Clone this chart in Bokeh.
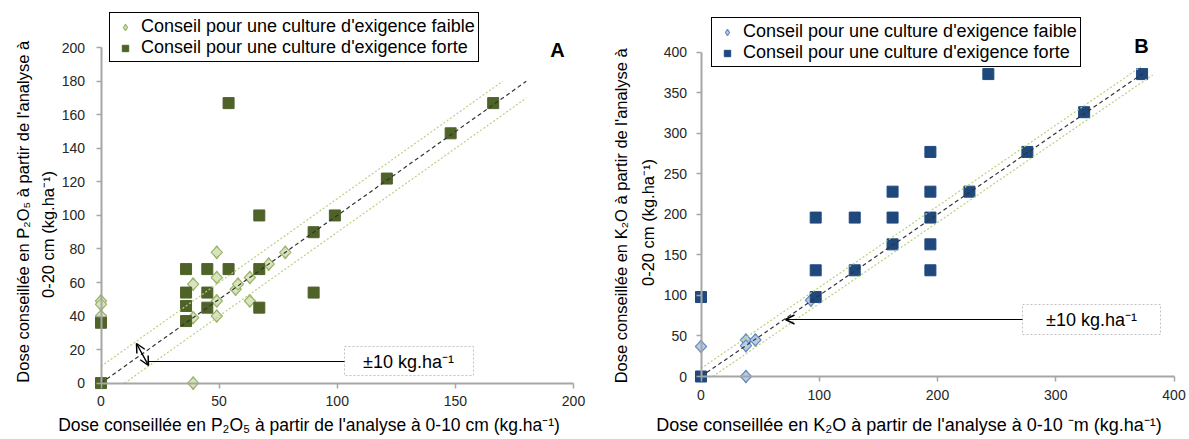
import numpy as np
from bokeh.plotting import figure
from bokeh.layouts import row
from bokeh.models import (Range1d, Legend, LegendItem, Label, BoxAnnotation, Arrow,
                          OpenHead, FixedTicker)
from bokeh.core.properties import value
from bokeh.embed import file_html
from bokeh.resources import INLINE

# ---------------- data ----------------
# Panel A : P2O5
a_faible_x = [0, 0, 0, 39, 39, 39, 49, 49, 49, 49, 57, 58, 63, 63, 71, 78]
a_faible_y = [49, 47, 40, 0, 59, 39, 78, 63, 49, 40, 56, 59, 63, 49, 71, 78]
a_forte_x = [0, 0, 36, 36, 36, 36, 45, 45, 45, 54, 54, 67, 67, 67, 90, 90, 99, 121, 148, 166]
a_forte_y = [0, 36, 68, 54, 46, 37, 68, 54, 45, 68, 167, 100, 68, 45, 90, 54, 100, 122, 149, 167]
a_line_x = [0, 180]
a_line_y = [0, 180]
a_upper_x = [0, 170]
a_upper_y = [10, 180]
a_lower_x = [10, 180]
a_lower_y = [0, 170]
a_xticks = [0, 50, 100, 150, 200]
a_yticks = [0, 20, 40, 60, 80, 100, 120, 140, 160, 180, 200]

# Panel B : K2O
b_faible_x = [0, 38, 38, 38, 46, 93]
b_faible_y = [37, 0, 45, 38, 45, 94]
b_forte_x = [0, 0, 97, 97, 97, 130, 130, 162, 162, 162, 194, 194, 194, 194, 194, 227, 243, 276, 324, 373]
b_forte_y = [0, 98, 98, 131, 196, 131, 196, 163, 196, 228, 131, 163, 196, 228, 277, 228, 373, 277, 326, 373]
b_line_x = [0, 375]
b_line_y = [0, 375]
b_upper_x = [0, 372]
b_upper_y = [10, 382]
b_lower_x = [10, 382]
b_lower_y = [0, 372]
b_xticks = [0, 100, 200, 300, 400]
b_yticks = [0, 50, 100, 150, 200, 250, 300, 350, 400]

lab_faible = "Conseil pour une culture d'exigence faible"
lab_forte = "Conseil pour une culture d'exigence forte"
FONT = "Liberation Sans"
H = 439


class Geo:
    """Maps canvas pixels of one panel to data units (frame covers the whole panel)."""
    def __init__(self, W, ox, x0px, x1px, xmax, y0px, y1px, ymax):
        self.W, self.ox = W, ox
        self.kx = (x1px - x0px) / xmax
        self.ky = (y0px - y1px) / ymax
        self.x0px, self.y0px = x0px - ox, y0px
        self.xr = (-self.x0px / self.kx, (W - self.x0px) / self.kx)
        self.yr = (-(H - y0px) / self.ky, y0px / self.ky)

    def __call__(self, sx, sy):
        return (sx - self.ox - self.x0px) / self.kx, (self.y0px - sy) / self.ky


def style_axes(p, xt, yt, ystand):
    for ax in (p.xaxis[0], p.yaxis[0]):
        ax.fixed_location = 0
        ax.axis_line_color = "#A6A6A6"
        ax.axis_line_width = 2
        ax.major_tick_line_color = "#A6A6A6"
        ax.major_tick_line_width = 1.5
        ax.major_tick_out = 5
        ax.major_tick_in = 0
        ax.minor_tick_line_color = None
        ax.major_label_text_font = FONT
        ax.major_label_text_font_size = "14px"
        ax.major_label_text_color = "#262626"
    p.xaxis[0].bounds = (0, xt[-1])
    p.yaxis[0].bounds = (0, yt[-1])
    p.xaxis[0].ticker = FixedTicker(ticks=xt)
    p.yaxis[0].ticker = FixedTicker(ticks=yt)
    p.xaxis[0].major_label_standoff = 8
    p.yaxis[0].major_label_standoff = ystand


def make_panel(g, fd, fsq, fdf, fdl, sqc, ref, up, lo, xt, yt, ystand):
    p = figure(width=g.W, height=H, x_range=Range1d(*g.xr), y_range=Range1d(*g.yr),
               output_backend="svg", toolbar_location=None,
               min_border=0, min_border_left=0, min_border_right=0,
               min_border_top=0, min_border_bottom=0)
    p.outline_line_color = None
    p.grid.visible = False
    p.background_fill_color = "white"
    # diamond glyph (used by the legend), covered by the rotated squares below
    r1 = p.scatter(fd[0], fd[1], marker="diamond", size=13,
                   fill_color=fdf, line_color=fdl, line_width=1.2)
    p.scatter(fd[0], fd[1], marker="square", angle=np.pi / 4, size=8,
              fill_color=fdf, line_color=fdl, line_width=1.2)
    r2 = p.scatter(fsq[0], fsq[1], marker="square", size=11,
                   fill_color=sqc, line_color=sqc)
    p.line(up[0], up[1], line_color="#B9D27F", line_dash="2 2", line_width=1.2)
    p.line(lo[0], lo[1], line_color="#B9D27F", line_dash="2 2", line_width=1.2)
    p.line(ref[0], ref[1], line_color="#333333", line_dash="4 3", line_width=1.2)
    style_axes(p, xt, yt, ystand)
    return p, r1, r2


def add_text(p, g, sx, sy, text, size="16.5px", angle=0.0, bold=False):
    x, y = g(sx, sy)
    p.add_layout(Label(x=x, y=y, text=text, angle=angle, text_align="center",
                       text_baseline="middle", text_font=FONT, text_font_size=size,
                       text_color="#000000",
                       text_font_style="bold" if bold else "normal"))


def add_legend(p, r1, r2, vx, vy):
    leg = Legend(items=[LegendItem(label=value(lab_faible), renderers=[r1]),
                        LegendItem(label=value(lab_forte), renderers=[r2])],
                 location=(vx, vy), orientation="vertical",
                 label_text_font=FONT, label_text_font_size="18px", label_text_color="#000000",
                 border_line_color="#000000", border_line_width=1, border_line_alpha=1,
                 background_fill_color="white", background_fill_alpha=1,
                 padding=3, spacing=0, margin=0, glyph_width=24, glyph_height=16,
                 label_height=18, label_standoff=4)
    p.add_layout(leg)


def add_box(p, g, x0, y0, x1, y1):
    l, b = g(x0, y1)
    r, t = g(x1, y0)
    p.add_layout(BoxAnnotation(left=l, right=r, bottom=b, top=t, fill_color="white",
                               fill_alpha=1, line_color="#333333", line_dash="2 2",
                               line_width=1))


def add_arrow(p, g, s, e, start=False, end=True, lw=1.2):
    xs, ys = g(*s)
    xe, ye = g(*e)
    head = lambda: OpenHead(size=9, line_width=1.5, line_color="#000000")
    p.add_layout(Arrow(x_start=xs, y_start=ys, x_end=xe, y_end=ye,
                       start=head() if start else None, end=head() if end else None,
                       line_color="#000000", line_width=lw))


# ---------------- panel A ----------------
ga = Geo(595, 0, 100.5, 573, 200, 382.6, 47.3, 200)
pa, ra1, ra2 = make_panel(ga, (a_faible_x, a_faible_y), (a_forte_x, a_forte_y),
                          "#D7E4BD", "#9DB56B", "#4F6228",
                          (a_line_x, a_line_y), (a_upper_x, a_upper_y), (a_lower_x, a_lower_y),
                          a_xticks, a_yticks, 11)
add_legend(pa, ra1, ra2, 109, H - 62)
add_text(pa, ga, 557, 49, "A", size="20px", bold=True)
add_text(pa, ga, 22, 209, "Dose conseillée en P\u2082O\u2085  à partir de l'analyse à", angle=np.pi / 2)
add_text(pa, ga, 47, 234, "0-20 cm (kg.ha\u207b\u00b9)", angle=np.pi / 2)
add_text(pa, ga, 311, 424, "Dose conseillée en P\u2082O\u2085  à partir de l'analyse à 0-10 cm (kg.ha\u207b\u00b9)",
         size="17.5px")
add_box(pa, ga, 344, 346, 473, 375)
add_text(pa, ga, 408, 361, "±10 kg.ha\u207b\u00b9", size="18px")
add_arrow(pa, ga, (344, 361), (147, 361), end=False)
add_arrow(pa, ga, (136, 343), (148, 365), start=True, end=True, lw=1.5)

# ---------------- panel B ----------------
gb = Geo(594, 595, 700.5, 1173.5, 400, 376, 51.7, 400)
pb, rb1, rb2 = make_panel(gb, (b_faible_x, b_faible_y), (b_forte_x, b_forte_y),
                          "#B9CDE5", "#6A8CC0", "#1F497D",
                          (b_line_x, b_line_y), (b_upper_x, b_upper_y), (b_lower_x, b_lower_y),
                          b_xticks, b_yticks, 9)
add_legend(pb, rb1, rb2, 711 - 595, H - 67)
add_text(pb, gb, 1141, 45, "B", size="20px", bold=True)
add_text(pb, gb, 620, 213, "Dose conseillée  en K\u2082O à partir de l'analyse à", angle=np.pi / 2)
add_text(pb, gb, 647, 222, "0-20 cm (kg.ha\u207b\u00b9)", angle=np.pi / 2)
add_text(pb, gb, 911, 424, "Dose conseillée en K\u2082O  à partir de l'analyse à 0-10 \u207bm (kg.ha\u207b\u00b9)",
         size="18px")
add_box(pb, gb, 1022, 304, 1160, 334)
add_text(pb, gb, 1091, 319, "±10 kg.ha\u207b\u00b9", size="18px")
add_arrow(pb, gb, (1022, 319), (785, 319), end=True)

layout = row(pa, pb)
open("out.html", "w").write(file_html(layout, INLINE))
